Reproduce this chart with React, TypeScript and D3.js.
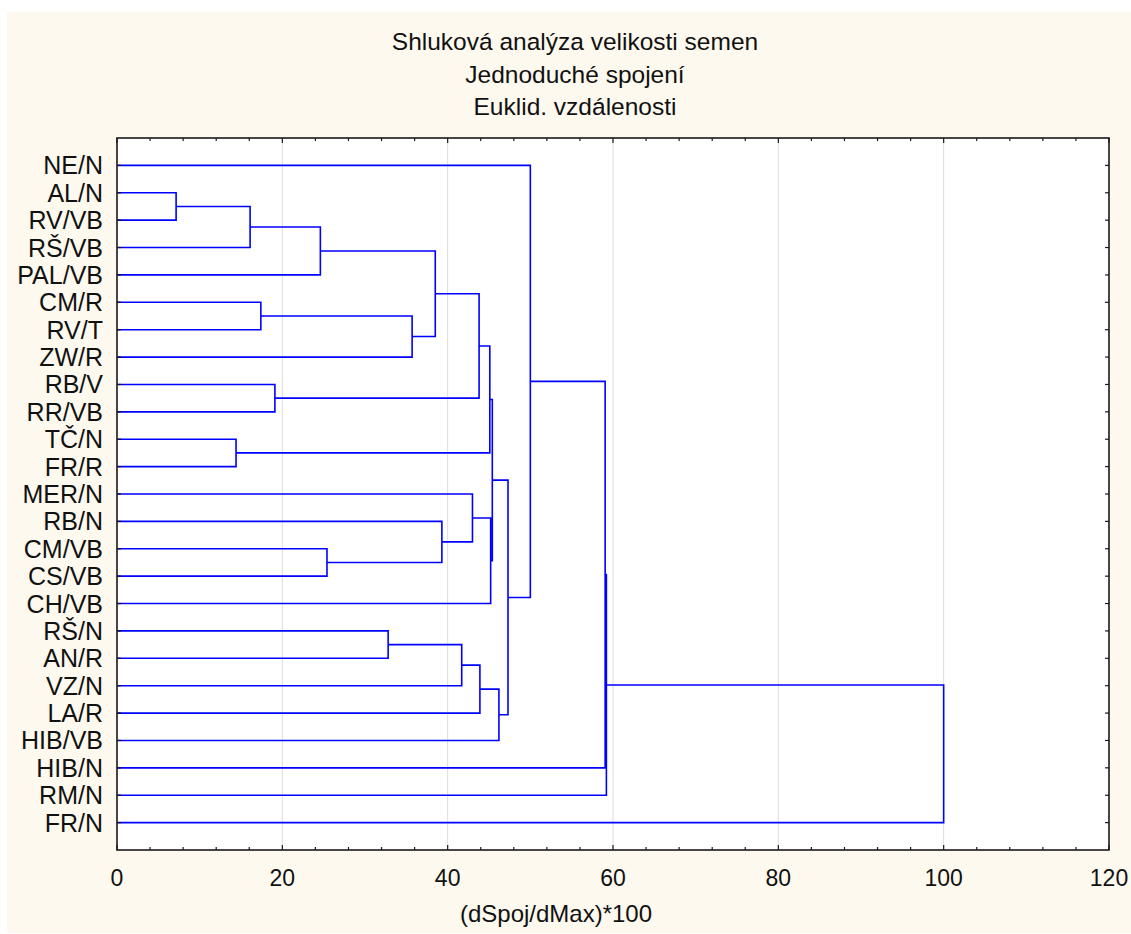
import React, { useEffect, useRef } from 'react';
import * as d3 from 'd3';

// leaf order top to bottom
const leaves = [
  'NE/N', 'AL/N', 'RV/VB', 'RŠ/VB', 'PAL/VB', 'CM/R', 'RV/T', 'ZW/R',
  'RB/V', 'RR/VB', 'TČ/N', 'FR/R', 'MER/N', 'RB/N', 'CM/VB', 'CS/VB',
  'CH/VB', 'RŠ/N', 'AN/R', 'VZ/N', 'LA/R', 'HIB/VB', 'HIB/N', 'RM/N', 'FR/N',
];

// merges: "#k" refers to the k-th merge
const linkA = [
  'AL/N', 'TČ/N', '#0', 'CM/R', 'RB/V', '#2', 'CM/VB', 'RŠ/N', '#3', '#5',
  'RB/N', '#7', 'MER/N', '#9', '#11', '#13', '#12', '#15', '#14', '#17',
  'NE/N', '#20', '#21', '#22',
];
const linkB = [
  'RV/VB', 'FR/R', 'RŠ/VB', 'RV/T', 'RR/VB', 'PAL/VB', 'CS/VB', 'AN/R', 'ZW/R', '#8',
  '#6', 'VZ/N', '#10', '#4', 'LA/R', '#1', 'CH/VB', '#16', 'HIB/VB', '#18',
  '#19', 'HIB/N', 'RM/N', 'FR/N',
];
const linkDist = [
  7.15, 14.4, 16.1, 17.4, 19.1, 24.6, 25.4, 32.8, 35.7, 38.5,
  39.3, 41.7, 43.0, 43.8, 43.9, 45.1, 45.2, 45.4, 46.2, 47.3,
  50.0, 59.05, 59.2, 100,
];

const titleLines = ['Shluková analýza velikosti semen', 'Jednoduché spojení', 'Euklid. vzdálenosti'];
const xTicks = [0, 20, 40, 60, 80, 100, 120];
const xLabel = '(dSpoj/dMax)*100';

const W = 1131;
const H = 934;
const FONT = 'Arial, "Liberation Sans", sans-serif';

const Dendrogram = () => {
  const svgRef = useRef();

  useEffect(() => {
    const svg = d3.select(svgRef.current);
    svg.selectAll('*').remove();

    const left = 117, right = 1109, top = 138, bottom = 850;

    const x = d3.scaleLinear().domain([0, 120]).range([left, right]);
    const y = d3.scalePoint().domain(leaves).range([top, bottom]).padding(1);

    // background panel
    svg.append('rect').attr('x', 0).attr('y', 0).attr('width', W).attr('height', H).attr('fill', '#ffffff');
    svg.append('rect').attr('x', 7).attr('y', 12).attr('width', W - 7).attr('height', H - 13).attr('fill', '#fdf9ef');
    svg.append('rect').attr('x', left).attr('y', top).attr('width', right - left).attr('height', bottom - top).attr('fill', '#ffffff');

    // gridlines
    svg.append('g').selectAll('line')
      .data(xTicks.filter(t => t > 0 && t < 120))
      .enter().append('line')
      .attr('x1', d => x(d)).attr('x2', d => x(d))
      .attr('y1', top).attr('y2', bottom)
      .attr('stroke', '#dcdcdc').attr('stroke-width', 1);

    // node positions
    const nodes = [];
    const pos = (id) => {
      if (id[0] === '#') return nodes[+id.slice(1)];
      return { x: 0, y: y(id) };
    };
    linkDist.forEach((h, i) => {
      const a = pos(linkA[i]);
      const b = pos(linkB[i]);
      nodes.push({ x: h, y: (a.y + b.y) / 2, a, b });
    });

    const path = d3.path();
    nodes.forEach(n => {
      path.moveTo(x(n.a.x), n.a.y);
      path.lineTo(x(n.x), n.a.y);
      path.lineTo(x(n.x), n.b.y);
      path.lineTo(x(n.b.x), n.b.y);
    });
    svg.append('path')
      .attr('d', path.toString())
      .attr('fill', 'none')
      .attr('stroke', '#0000ff')
      .attr('stroke-width', 1.6)
      .attr('stroke-linejoin', 'miter');

    // frame
    svg.append('rect')
      .attr('x', left).attr('y', top)
      .attr('width', right - left).attr('height', bottom - top)
      .attr('fill', 'none').attr('stroke', '#1a1a1a').attr('stroke-width', 1.6);

    // x ticks (inward, top and bottom)
    const minor = d3.range(0, 121, 4).filter(t => t % 20 !== 0);
    const tg = svg.append('g').attr('stroke', '#1a1a1a').attr('stroke-width', 1.2);
    [...xTicks.map(t => [t, 5]), ...minor.map(t => [t, 3])].forEach(([t, len]) => {
      tg.append('line').attr('x1', x(t)).attr('x2', x(t)).attr('y1', bottom).attr('y2', bottom - len);
      tg.append('line').attr('x1', x(t)).attr('x2', x(t)).attr('y1', top).attr('y2', top + len);
    });
    // y ticks (inward, left and right)
    leaves.forEach(l => {
      tg.append('line').attr('x1', left).attr('x2', left + 4).attr('y1', y(l)).attr('y2', y(l));
      tg.append('line').attr('x1', right).attr('x2', right - 4).attr('y1', y(l)).attr('y2', y(l));
    });

    // leaf labels
    svg.append('g').selectAll('text')
      .data(leaves)
      .enter().append('text')
      .attr('x', 103)
      .attr('y', d => y(d))
      .attr('dy', '0.36em')
      .attr('text-anchor', 'end')
      .attr('font-family', FONT)
      .attr('font-size', 25)
      .attr('fill', '#111')
      .text(d => d);

    // x tick labels
    svg.append('g').selectAll('text')
      .data(xTicks)
      .enter().append('text')
      .attr('x', d => x(d))
      .attr('y', 886)
      .attr('text-anchor', 'middle')
      .attr('font-family', FONT)
      .attr('font-size', 23)
      .attr('fill', '#111')
      .text(d => d);

    // axis title
    svg.append('text')
      .attr('x', 556).attr('y', 922)
      .attr('text-anchor', 'middle')
      .attr('font-family', FONT)
      .attr('font-size', 24)
      .attr('fill', '#111')
      .text(xLabel);

    // title
    svg.append('g').selectAll('text')
      .data(titleLines)
      .enter().append('text')
      .attr('x', 575)
      .attr('y', (d, i) => 50 + i * 32.5)
      .attr('text-anchor', 'middle')
      .attr('font-family', FONT)
      .attr('font-size', 24.5)
      .attr('fill', '#111')
      .text(d => d);
  }, []);

  return <svg ref={svgRef} width={W} height={H} style={{ position: 'absolute', left: 0, top: 0 }} />;
};

export default function App() {
  return <Dendrogram />;
}
